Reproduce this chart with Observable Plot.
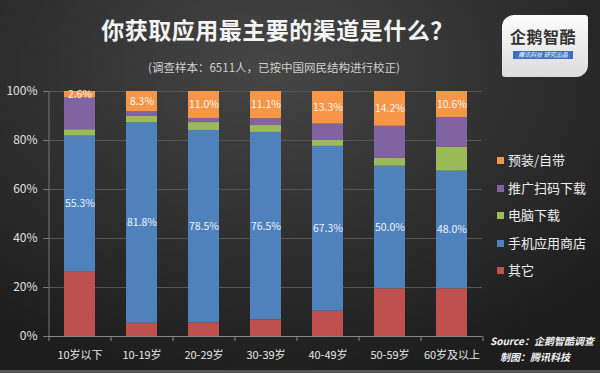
<!DOCTYPE html>
<html>
<head>
<meta charset="utf-8">
<script src="https://cdn.jsdelivr.net/npm/d3@7"></script>
<script src="https://cdn.jsdelivr.net/npm/@observablehq/plot@0.6"></script>
<style>
  html, body { margin: 0; padding: 0; background: #222; }
  #wrap {
    position: relative; width: 600px; height: 373px; overflow: hidden;
    font-family: "Noto Sans CJK SC", "Noto Sans", sans-serif;
    background: radial-gradient(ellipse 75% 85% at 45% 18%, #464646 0%, #313131 50%, #1d1d1d 100%);
  }
  #header { position: relative; height: 80px; }
  .title { position: absolute; left: 0; width: 555px; top: 17px; text-align: center;
    font-size: 23px; line-height: 24px; font-weight: bold; color: #f4f4f4; letter-spacing: 0.5px; }
  .subtitle { position: absolute; left: 0; width: 548px; top: 61px; text-align: center;
    font-size: 11.5px; line-height: 13px; color: #d0d0d0; }
  .logo { position: absolute; left: 502px; top: 15px; width: 86px; height: 62px;
    background: linear-gradient(#fdfdfd, #dcdcdc); border-radius: 12px 3px 12px 3px; }
  .logo .name { position: absolute; left: 8px; top: 12px; font-size: 16px; line-height: 18px;
    color: #333; letter-spacing: 0.5px; font-weight: bold; }
  .logo .strip { position: absolute; left: 11px; top: 36px; width: 60px; height: 8px;
    background: #3b6fc9; color: #fff; font-size: 6px; line-height: 8px; text-align: center;
    font-style: italic; white-space: nowrap; }
  #chart { position: absolute; left: 0; top: 80px; }
  .legend { position: absolute; left: 497px; font-size: 13px; line-height: 14px; color: #eee; white-space: nowrap; }
  .legend span.sw { display: inline-block; width: 7px; height: 7px; margin-right: 4px; vertical-align: 1px; }
  .source { position: absolute; color: #f2f2f2; font-style: italic; font-weight: bold; white-space: nowrap; }
  .bottomstrip { position: absolute; left: 0; bottom: 0; width: 600px; height: 3px; background: #555; }
</style>
</head>
<body>
<div id="wrap">
  <div id="header">
    <div class="title">你获取应用最主要的渠道是什么？</div>
    <div class="subtitle">(调查样本：6511人，已按中国网民结构进行校正)</div>
    <div class="logo"><div class="name">企鹅智酷</div><div class="strip">腾讯科技 研究出品</div></div>
  </div>
  <div id="chart"></div>
  <div id="legend"></div>
  <div class="source" style="left:490px; top:335px; font-size:10px; line-height:12px;">Source：企鹅智酷调查</div>
  <div class="source" style="left:500px; top:351px; font-size:10px; line-height:12px;">制图：腾讯科技</div>
  <div class="bottomstrip"></div>
</div>
<script>
// Categories (x axis)
const ages = ["10岁以下", "10-19岁", "20-29岁", "30-39岁", "40-49岁", "50-59岁", "60岁及以上"];
// Series, bottom to top of each stack
const channels = ["其它", "手机应用商店", "电脑下载", "推广扫码下载", "预装/自带"];
const channelColors = ["#c0504d", "#4f81bd", "#9bbb59", "#8064a2", "#f79646"];
// Values (%) per age group
const other        = [26.5, 5.4, 5.6, 6.8, 10.3, 19.5, 19.5];
const appStore     = [55.3, 81.8, 78.5, 76.5, 67.3, 50.0, 48.0];
const pcDownload   = [2.6, 2.6, 3.2, 2.8, 2.4, 3.3, 9.8];
const promoScan    = [13.0, 1.9, 1.7, 2.8, 6.7, 13.0, 12.1];
const preinstalled = [2.6, 8.3, 11.0, 11.1, 13.3, 14.2, 10.6];
// Which series carry value labels
const labeledChannels = ["手机应用商店", "预装/自带"];
// Y tick values
const yTicks = [0, 20, 40, 60, 80, 100];
// Legend order (top to bottom)
const legendOrder = ["预装/自带", "推广扫码下载", "电脑下载", "手机应用商店", "其它"];

const seriesValues = [other, appStore, pcDownload, promoScan, preinstalled];
const table = [];
ages.forEach((age, i) => {
  channels.forEach((ch, j) => {
    table.push({age, channel: ch, value: seriesValues[j][i]});
  });
});

const W = 600, H = 293, mL = 48, mR = 118, mT = 11, mB = 37;
const halfStep = (W - mL - mR) / ages.length / 2;
const plotH = H - mT - mB;

const chart = Plot.plot({
  width: W, height: H,
  marginLeft: mL, marginRight: mR, marginTop: mT, marginBottom: mB,
  style: {background: "transparent", color: "#e0e0e0", fontFamily: "'Noto Sans CJK SC', sans-serif", fontSize: "11px", overflow: "visible"},
  x: {domain: ages, paddingInner: 0.5, paddingOuter: 0.25, label: null},
  y: {domain: [0, 100], label: null},
  color: {domain: channels, range: channelColors},
  marks: [
    Plot.gridY(yTicks.filter(d => d > 0), {stroke: "#555", strokeOpacity: 1}),
    Plot.barY(table, {x: "age", y: "value", fill: "channel", z: "channel"}),
    Plot.text(table, Plot.stackY({
      x: "age", y: "value", z: "channel",
      text: d => labeledChannels.includes(d.channel) ? d.value.toFixed(1) + "%" : null,
      fill: "#eef2f8", fontSize: 10.5
    })),
    Plot.ruleX([ages[0]], {x: d => d, dx: -halfStep, stroke: "#777"}),
    Plot.ruleY([0], {stroke: "#888"}),
    Plot.ruleX(ages, {x: d => d, dx: -halfStep, stroke: "#888", insetTop: plotH, insetBottom: -5}),
    Plot.ruleX([ages[ages.length - 1]], {x: d => d, dx: halfStep, stroke: "#888", insetTop: plotH, insetBottom: -5}),
    Plot.axisY(yTicks, {tickSize: 5, tickPadding: 6, fontSize: 12, stroke: "#777", fill: "#e0e0e0", tickFormat: d => d + "%", label: null}),
    Plot.axisX({tickSize: 0, tickPadding: 15, fontSize: 11, fill: "#e6e6e6", label: null})
  ]
});
document.getElementById("chart").appendChild(chart);

// Legend
const legendEl = document.getElementById("legend");
const legendTop0 = 80 + mT + 62; // first legend row top (page px)
legendOrder.forEach((name, k) => {
  const item = document.createElement("div");
  item.className = "legend";
  item.style.top = (legendTop0 + k * 27.5) + "px";
  const sw = document.createElement("span");
  sw.className = "sw";
  sw.style.background = channelColors[channels.indexOf(name)];
  item.appendChild(sw);
  item.appendChild(document.createTextNode(name));
  legendEl.appendChild(item);
});
</script>
</body>
</html>
